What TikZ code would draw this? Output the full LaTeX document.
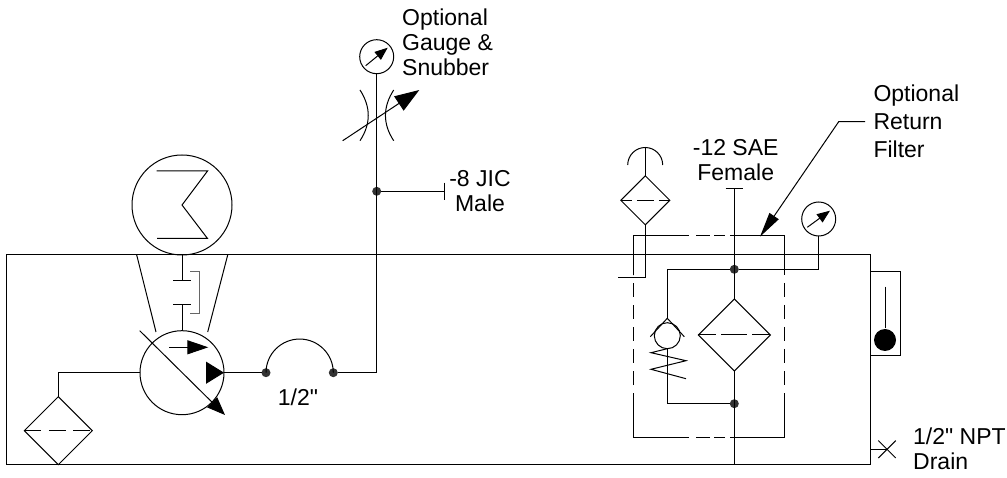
\documentclass[tikz,border=0pt]{standalone}
\usepackage{fontspec}
\newfontfamily\lblfont{Liberation Sans}
\usetikzlibrary{arrows.meta,shapes.geometric}
\tikzset{
    lbl/.style={font=\lblfont\fontsize{23}{25}\selectfont,inner sep=0pt},
    junction/.style={circle,fill=black!80,minimum size=9pt,inner sep=0pt,outer sep=0pt},
    ring/.style={circle,draw,inner sep=0pt,outer sep=0pt},
    gaugering/.style={ring,minimum size=34pt},
    filterbox/.style={diamond,draw,inner sep=0pt,outer sep=0pt},
    needle/.style={-{Triangle[length=13pt,width=10pt]}},
    elementdash/.style={dash pattern=#1}
}
\begin{document}
\begin{tikzpicture}[x=1pt,y=-1pt,line width=1pt]
    \useasboundingbox (0,0) rectangle (1007,478);
    \coordinate (tanktl) at (6.7,255);
    \coordinate (tankbr) at (870,464);
    \draw (tanktl) rectangle (tankbr);
    \node[ring,minimum size=100pt] (motor) at (182,205) {};
    \node[ring,minimum size=84pt] (pump) at (182,372.7) {};
    \coordinate (z1) at (156.5,171);
    \coordinate (z2) at (207.5,171);
    \coordinate (z3) at (182,205);
    \coordinate (z4) at (207.5,238.5);
    \coordinate (z5) at (157,238.5);
    \draw (z1) -- (z2) -- (z3) -- (z4) -- (z5);
    \coordinate (bellAl) at (136.7,255);
    \coordinate (bellBl) at (156,332);
    \coordinate (bellAr) at (227.7,255);
    \coordinate (bellBr) at (207.7,332);
    \draw (bellAl) -- (bellBl);
    \draw (bellAr) -- (bellBr);
    \coordinate (cupA) at (182,280.3);
    \coordinate (cupB) at (182,305);
    \coordinate (cupAl) at (173.3,280.3);
    \coordinate (cupAr) at (191,280.3);
    \coordinate (cupBl) at (173.3,305);
    \coordinate (cupBr) at (191,305);
    \draw (motor) -- (cupA);
    \draw (cupB) -- (pump);
    \draw (cupAl) -- (cupAr);
    \draw (cupBl) -- (cupBr);
    \coordinate (br1) at (190.3,271.7);
    \coordinate (br2) at (199,271.7);
    \coordinate (br3) at (199,314);
    \coordinate (br4) at (190.3,314);
    \draw[black!60] (br1) -- (br2) -- (br3) -- (br4);
    \coordinate (varA) at (139.7,330.7);
    \coordinate (varB) at (225,415);
    \draw[-{Triangle[length=18pt,width=14pt]}] (varA) -- (varB);
    \coordinate (dirA) at (169,347.3);
    \coordinate (dirB) at (208.3,347.3);
    \draw[-{Triangle[length=21pt,width=14pt]}] (dirA) -- (dirB);
    \coordinate (outA) at (206,372.7);
    \draw[-{Triangle[length=18pt,width=22pt]}] (outA) -- (pump.east);
    \node[filterbox,minimum width=68pt,minimum height=68pt] (inlet) at (58.3,430.7) {};
    \draw[elementdash={on 17pt off 7.5pt}] (inlet.west) -- (inlet.east);
    \coordinate (inletbend) at (58.3,372.7);
    \draw (pump.west) -- (inletbend) -- (inlet.north);
    \node[junction] (hoseL) at (266,372.7) {};
    \node[junction] (hoseR) at (333.3,372.7) {};
    \draw (pump.east) -- (hoseL);
    \draw (hoseL.center) arc[start angle=180,end angle=0,radius=33.65pt];
    \node[lbl] (hoselbl) at (298,397.7) {1/2"};
    \node[gaugering] (gauge) at (376.7,56.7) {};
    \node[junction] (tee) at (376.7,191.3) {};
    \coordinate (riser) at (376.7,372.7);
    \draw (hoseR) -- (riser) -- (gauge);
    \coordinate (gaugeA) at (365.7,65.7);
    \coordinate (gaugeB) at (387.7,47.7);
    \draw[needle] (gaugeA) -- (gaugeB);
    \coordinate (snubLa) at (360,90);
    \coordinate (snubLb) at (371,107);
    \coordinate (snubLc) at (371,124);
    \coordinate (snubLd) at (360,140.7);
    \coordinate (snubRa) at (393.7,90);
    \coordinate (snubRb) at (382.7,107);
    \coordinate (snubRc) at (382.7,124);
    \coordinate (snubRd) at (393.7,140.7);
    \draw (snubLa) .. controls (snubLb) and (snubLc) .. (snubLd);
    \draw (snubRa) .. controls (snubRb) and (snubRc) .. (snubRd);
    \coordinate (snubA) at (342.7,140.7);
    \coordinate (snubB) at (419.3,90);
    \draw[-{Triangle[length=24.5pt,width=17pt]}] (snubA) -- (snubB);
    \coordinate (jicEnd) at (444,191.3);
    \coordinate (jicT) at (444,182.7);
    \coordinate (jicB) at (444,200);
    \draw (tee) -- (jicEnd);
    \draw (jicT) -- (jicB);
    \node[lbl,align=left,anchor=west] (gaugelbl) at (401.7,42.5) {Optional\\Gauge \&\\Snubber};
    \node[lbl,align=center] (jiclbl) at (480,191.5) {-8 JIC\\Male};
    \node[filterbox,minimum width=49pt,minimum height=49pt] (vent) at (645.3,200.3) {};
    \draw[elementdash={on 11pt off 5pt on 17pt off 5pt on 11pt off 5pt}] (vent.west) -- (vent.east);
    \coordinate (ventL) at (627.7,165);
    \coordinate (ventT) at (645.3,147.3);
    \draw (ventL) arc[start angle=180,end angle=0,radius=17.5pt];
    \draw (ventT) -- (vent.north);
    \coordinate (ventbend) at (645.3,278);
    \coordinate (ventend) at (618.3,278);
    \draw (vent.south) -- (ventbend) -- (ventend);
    \coordinate (rbA) at (633.7,275);
    \coordinate (rbB) at (633.7,235.7);
    \coordinate (rbC) at (784.7,235.7);
    \coordinate (rbD) at (784.7,437);
    \coordinate (rbE) at (633.7,437);
    \draw[elementdash={on 94.6pt off 7pt on 14pt off 4pt on 11pt off 5pt on 94pt off 8pt on 14pt off 8pt on 14pt off 8pt on 14pt off 8pt on 14pt off 8pt on 14pt off 8pt on 98.7pt off 5pt on 11pt off 4pt on 14pt off 7pt on 99.3pt off 8pt on 14pt off 8pt on 14pt off 8pt on 14pt off 8pt on 14pt off 8pt on 14pt off 8pt}] (rbA) -- (rbB) -- (rbC) -- (rbD) -- (rbE) -- cycle;
    \node[filterbox,minimum width=72pt,minimum height=72pt] (ret) at (734.3,335) {};
    \draw[elementdash={on 18pt off 5pt on 26pt off 5pt on 18pt off 5pt}] (ret.west) -- (ret.east);
    \node[junction] (retT) at (734.3,269.3) {};
    \node[junction] (retB) at (734.3,403.7) {};
    \coordinate (saeEnd) at (734.3,188.3);
    \coordinate (saeL) at (725.6,188.3);
    \coordinate (saeR) at (743,188.3);
    \coordinate (drainEnd) at (734.3,464);
    \draw (saeL) -- (saeR);
    \draw (saeEnd) -- (ret.north);
    \draw (ret.south) -- (drainEnd);
    \node[gaugering] (retgauge) at (818.7,219) {};
    \coordinate (retgaugebend) at (818.7,269.3);
    \draw (retT) -- (retgaugebend) -- (retgauge);
    \coordinate (retgaugeA) at (807.3,227.3);
    \coordinate (retgaugeB) at (830,210.7);
    \draw[needle] (retgaugeA) -- (retgaugeB);
    \node[ring,minimum size=26pt] (ball) at (667.3,335.7) {};
    \coordinate (seatL) at (650.3,336.7);
    \coordinate (seatT) at (667.3,318.3);
    \coordinate (seatR) at (684.3,336.7);
    \draw (seatL) -- (seatT) -- (seatR);
    \coordinate (bypassT) at (667.3,269.3);
    \coordinate (bypassB) at (667.3,403.7);
    \draw (retT) -- (bypassT) -- (seatT);
    \draw (ball.south) -- (bypassB) -- (retB);
    \coordinate (sp1) at (651,352.7);
    \coordinate (sp2) at (686,360.7);
    \coordinate (sp3) at (651,369.3);
    \coordinate (sp4) at (686,378.7);
    \draw (ball.south) -- (sp1) -- (sp2) -- (sp3) -- (sp4);
    \coordinate (leadA) at (865,121.7);
    \coordinate (leadB) at (838.7,121.7);
    \coordinate (leadC) at (760,236.7);
    \draw[-{Triangle[length=25pt,width=11pt]}] (leadA) -- (leadB) -- (leadC);
    \coordinate (sg1) at (870,271.7);
    \coordinate (sg2) at (900.7,271.7);
    \coordinate (sg3) at (900.7,356);
    \coordinate (sg4) at (870,356);
    \draw (sg1) -- (sg2) -- (sg3) -- (sg4);
    \node[circle,fill=black,minimum size=22pt,inner sep=0pt] (sgball) at (885,340) {};
    \coordinate (sgtop) at (885,286.7);
    \draw (sgtop) -- (sgball);
    \coordinate (drainA) at (870,449.3);
    \coordinate (drainX) at (887,449.3);
    \coordinate (xa) at (878.3,440.6);
    \coordinate (xb) at (895.7,458);
    \coordinate (xc) at (895.7,440.6);
    \coordinate (xd) at (878.3,458);
    \draw (drainA) -- (drainX);
    \draw (xa) -- (xb);
    \draw (xc) -- (xd);
    \node[lbl,align=center] (saelbl) at (735.7,160) {-12 SAE\\Female};
    \node[lbl,align=left,anchor=west] (retlbl) at (873,121.7) {Optional\\[3pt]Return\\[3pt]Filter};
    \node[lbl,align=left,anchor=west] (drainlbl) at (912.7,448.5) {1/2" NPT\\Drain};
\end{tikzpicture}
\end{document}
